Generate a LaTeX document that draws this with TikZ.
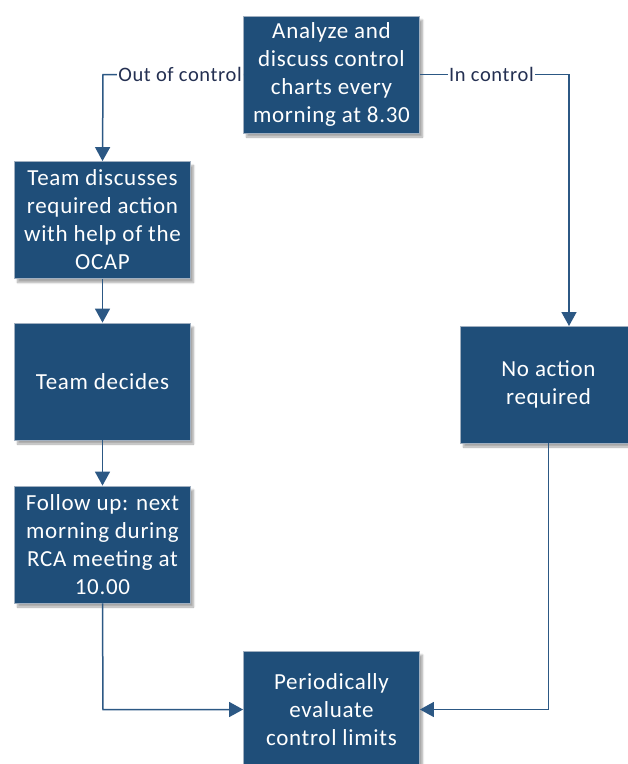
\documentclass[tikz,border=0pt]{standalone}
\usepackage{fontspec}
\setmainfont{Carlito}
\newfontfamily\boxfont[LetterSpace=3]{Carlito}
\usetikzlibrary{arrows.meta,shadows.blur}
\definecolor{boxblue}{RGB}{31,78,121}
\definecolor{edgeblue}{RGB}{44,88,132}
\definecolor{rimgray}{RGB}{160,175,192}
\definecolor{labelink}{RGB}{36,48,82}
\tikzset{
  procbox/.style={rectangle, fill=boxblue, draw=rimgray, line width=0.8pt,
    minimum width=176pt, minimum height=117pt, text=white, align=center,
    inner sep=2pt, font=\boxfont\fontsize{23}{28}\selectfont,
    blur shadow={shadow xshift=3pt, shadow yshift=-4pt, shadow blur steps=6, shadow opacity=35}},
  flow/.style={draw=edgeblue, line width=1.5pt,
    -{Triangle[length=14pt, width=15pt]}},
  condlabel/.style={fill=white, text=labelink, inner sep=1pt,
    font=\boxfont\fontsize{20.5}{22}\selectfont}
}
\begin{document}
\begin{tikzpicture}[x=1pt, y=1pt]
  \useasboundingbox (0,0) rectangle (628,-764);

  % process steps
  \node[procbox] (check)    at (331.5,-74.5) {Analyze and\\discuss control\\charts every\\morning at 8.30};
  \node[procbox] (discuss)  at (102.5,-220)  {Team discusses\\required action\\with help of the\\OCAP};
  \node[procbox] (decide)   at (102.5,-381.5) {Team decides};
  \node[procbox] (followup) at (102.5,-544.5) {Follow up: next\\morning during\\RCA meeting at\\10.00};
  \node[procbox] (noaction) at (548.5,-384.5) {No action\\required};
  \node[procbox] (evaluate) at (331.5,-709.5) {Periodically\\evaluate\\control limits};

  % bend points of the routed connectors
  \coordinate (outbend) at (103,-74.5);
  \coordinate (inbend)  at (569,-74.5);
  \coordinate (intop)   at (569,-326);
  \coordinate (lowleft) at (103,-709.5);
  \coordinate (lowright) at (548.5,-709.5);

  % out of control branch
  \draw[flow] (check.west) -- node[condlabel, pos=0.45] {Out of control} (outbend) -- (discuss.north);
  \draw[flow] (discuss) -- (decide);
  \draw[flow] (decide) -- (followup);
  \draw[flow] (followup.south) -- (lowleft) -- (evaluate.west);

  % in control branch
  \draw[flow] (check.east) -- node[condlabel, pos=0.48] {In control} (inbend) -- (intop);
  \draw[flow] (noaction.south) -- (lowright) -- (evaluate.east);
\end{tikzpicture}
\end{document}
